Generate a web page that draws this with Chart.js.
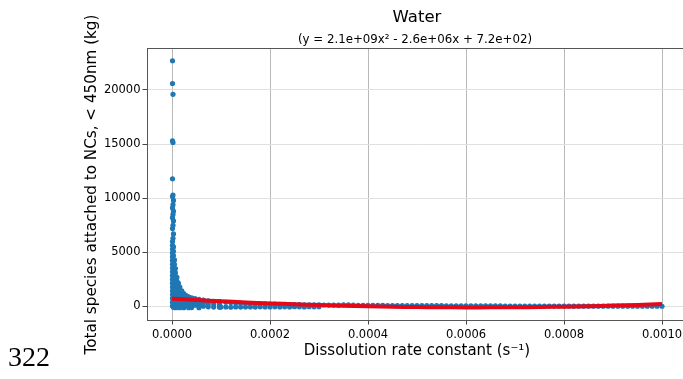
<!DOCTYPE html>
<html>
<head>
<meta charset="utf-8">
<script src="https://cdn.jsdelivr.net/npm/chart.js@4"></script>
<style>
  body { margin: 0; width: 683px; height: 379px; overflow: hidden; background: #fff; }
  #wrap { width: 700px; height: 379px; }
</style>
</head>
<body>
<div id="wrap"><canvas id="waterChart" width="700" height="379"></canvas></div>
<script>
// Text
const chartTitle = 'Water';
const fitLabel = '(y = 2.1e+09x\u00b2 - 2.6e+06x + 7.2e+02)';
const xTitle = 'Dissolution rate constant (s\u207b\u00b9)';
const yTitle = 'Total species attached to NCs, < 450nm (kg)';
const lineNumber = '322';

// Tick labels
const xTicks = [0, 0.0002, 0.0004, 0.0006, 0.0008, 0.0010];
const yTicks = [0, 5000, 10000, 15000, 20000];

// Rates below are in units of 1e-6 s^-1, masses in kg
// isolated points of the spike at x ~ 0
const peakPoints = [
  [1, 22700], [1, 20600], [2, 19600], [1, 15300], [2, 15150], [1, 11800],
  [2, 10300], [1, 10150], [3, 9800], [2, 9400], [1, 9100], [3, 8800],
  [2, 8500], [1, 8200], [3, 7900], [2, 7500], [1, 7200], [3, 6700], [2, 6300]
];

// dense cloud close to zero: one column of masses per rate
const clusterRates = [1, 3, 5, 7, 10, 13, 16, 20, 24, 29, 34, 40, 47, 55, 64, 74, 85, 97];
const clusterMasses = [
  [6000, 5650, 5300, 4950, 4600, 4250, 3900, 3550, 3200, 2850, 2500, 2150, 1800, 1450, 1100, 750, 400, 50],
  [5500, 5100, 4700, 4300, 3900, 3500, 3100, 2700, 2300, 1900, 1500, 1100, 700, 300, -80],
  [4300, 3900, 3500, 3100, 2700, 2300, 1900, 1500, 1100, 700, 300, -100],
  [3500, 3100, 2700, 2300, 1900, 1500, 1100, 700, 300, -100],
  [2700, 2350, 2000, 1650, 1300, 950, 600, 250, -100],
  [2150, 1800, 1450, 1100, 750, 400, 50],
  [1800, 1450, 1100, 750, 400, 50, -120],
  [1450, 1100, 750, 400, 50],
  [1200, 900, 600, 300, 0, -120],
  [1000, 700, 400, 100],
  [900, 600, 300, 0, -120],
  [800, 500, 200, -100],
  [720, 420, 120],
  [650, 350, 50, -120],
  [580, 300, 20],
  [530, 250, -30],
  [480, 220, -60],
  [440, 180, -80]
];

// long flat tail along zero
const tailRates = [
  110, 120, 130, 140, 150, 160, 170, 180, 190, 200, 210, 220, 230, 240, 250, 260, 270, 280, 290, 300,
  310, 320, 330, 340, 350, 360, 370, 380, 390, 400, 410, 420, 430, 440, 450, 460, 470, 480, 490, 500,
  510, 520, 530, 540, 550, 560, 570, 580, 590, 600, 610, 620, 630, 640, 650, 660, 670, 680, 690, 700,
  710, 720, 730, 740, 750, 760, 770, 780, 790, 800, 810, 820, 830, 840, 850, 860, 870, 880, 890, 900,
  910, 920, 930, 940, 950, 960, 970, 980, 990, 1000
];
const tailMasses = [
  390, 360, 330, 310, 290, 275, 260, 245, 235, 220, 210, 200, 190, 180, 175, 165, 160, 150, 145, 140,
  135, 130, 125, 120, 150, 140, 120, 110, 105, 100, 100, 95, 95, 90, 90, 85, 85, 80, 80, 80,
  75, 75, 70, 70, 70, 65, 65, 60, 60, 60, 55, 55, 55, 50, 50, 50, 50, 45, 45, 45,
  45, 40, 40, 40, 40, 40, 35, 35, 35, 35, 35, 30, 30, 30, 30, 30, 30, 25, 25, 25,
  25, 25, 25, 20, 20, 20, 20, 20, 20, 20
];
const tailLowRates = [100, 110, 120, 130, 140, 150, 160, 170, 180, 190, 200, 210, 220, 230, 240, 250, 260, 270, 280, 290, 300];
const tailLowMasses = [-60, -50, -70, -40, -60, -50, -40, -60, -30, -50, -40, -30, -50, -30, -40, -20, -30, -40, -20, -30, -20];

// red quadratic fit
const fitRates = [0, 50, 100, 150, 200, 250, 300, 350, 400, 450, 500, 550, 600, 650, 700, 750, 800, 850, 900, 950, 1000];
const fitMasses = [720, 595, 481, 377, 284, 201, 129, 67, 16, -25, -55, -75, -84, -83, -71, -49, -16, 27, 81, 145, 220];

const RATE_UNIT = 1e-6;
const FONT = 'DejaVu Sans';

// Build the scatter table from the arrays above
function buildScatter() {
  const pts = [];
  peakPoints.forEach(p => pts.push({ x: p[0] * RATE_UNIT, y: p[1] }));
  clusterRates.forEach((r, i) => {
    clusterMasses[i].forEach(m => pts.push({ x: r * RATE_UNIT, y: m }));
  });
  tailRates.forEach((r, i) => pts.push({ x: r * RATE_UNIT, y: tailMasses[i] }));
  tailLowRates.forEach((r, i) => pts.push({ x: r * RATE_UNIT, y: tailLowMasses[i] }));
  return pts;
}

const fitLine = fitRates.map((r, i) => ({ x: r * RATE_UNIT, y: fitMasses[i] }));

// Title, subtitle, top spine and the page line number
const headerPlugin = {
  id: 'header',
  afterDraw(chart) {
    const { ctx, chartArea } = chart;
    const cx = (chartArea.left + chartArea.right) / 2;
    ctx.save();
    ctx.strokeStyle = '#555';
    ctx.lineWidth = 1;
    ctx.beginPath();
    ctx.moveTo(chartArea.left, chartArea.top);
    ctx.lineTo(chartArea.right, chartArea.top);
    ctx.stroke();

    ctx.fillStyle = '#000';
    ctx.textAlign = 'center';
    ctx.textBaseline = 'middle';
    ctx.font = '16.5px "' + FONT + '"';
    ctx.fillText(chartTitle, cx, 18);
    ctx.font = '11.8px "' + FONT + '"';
    ctx.fillText(fitLabel, cx - 2, 40);

    ctx.textAlign = 'left';
    ctx.textBaseline = 'alphabetic';
    ctx.font = '28px "Liberation Serif"';
    ctx.fillText(lineNumber, 8, 366);
    ctx.restore();
  }
};

const ctx = document.getElementById('waterChart').getContext('2d');
new Chart(ctx, {
  type: 'scatter',
  data: {
    datasets: [
      {
        label: 'fit',
        type: 'line',
        data: fitLine,
        borderColor: 'rgb(228, 8, 24)',
        borderWidth: 4,
        pointRadius: 0,
        tension: 0.3,
        fill: false,
        order: 0
      },
      {
        label: 'data',
        data: buildScatter(),
        backgroundColor: '#1f77b4',
        borderWidth: 0,
        pointRadius: 2.6,
        order: 1
      }
    ]
  },
  options: {
    responsive: false,
    animation: false,
    devicePixelRatio: 1,
    layout: { padding: { left: 0, top: 48.5, right: 13.5, bottom: 0 } },
    plugins: { legend: { display: false }, tooltip: { enabled: false } },
    scales: {
      x: {
        type: 'linear',
        min: -0.00005,
        max: 0.00105,
        afterBuildTicks: s => { s.ticks = xTicks.map(v => ({ value: v })); },
        afterFit: s => { s.height = 379 - 320.5; },
        ticks: {
          callback: v => v.toFixed(4),
          color: '#000',
          font: { family: FONT, size: 11.5 },
          padding: 4,
          maxRotation: 0,
          autoSkip: false
        },
        grid: { color: '#b9b9b9', lineWidth: 1, tickLength: 4, tickColor: '#444' },
        border: { color: '#555', width: 1 },
        title: {
          display: true,
          text: xTitle,
          color: '#000',
          font: { family: FONT, size: 15 },
          padding: { top: 0, bottom: 19 }
        }
      },
      y: {
        type: 'linear',
        min: -1296,
        max: 23833,
        afterBuildTicks: s => { s.ticks = yTicks.map(v => ({ value: v })); },
        afterFit: s => { s.width = 147.5; },
        ticks: {
          callback: v => String(v),
          color: '#000',
          font: { family: FONT, size: 11.5 },
          padding: 2
        },
        grid: { color: '#e0e0e0', lineWidth: 1, tickLength: 5, tickColor: '#444' },
        border: { color: '#555', width: 1 },
        title: {
          display: true,
          text: yTitle,
          color: '#000',
          font: { family: FONT, size: 15.2 },
          padding: { top: 83, bottom: 0 }
        }
      }
    }
  },
  plugins: [headerPlugin]
});
</script>
</body>
</html>
